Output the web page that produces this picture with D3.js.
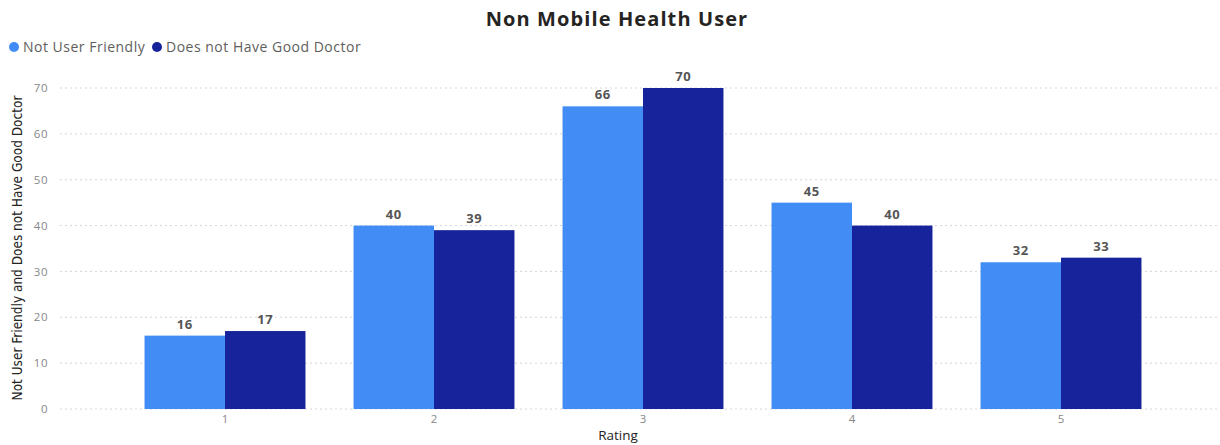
<!DOCTYPE html>
<html><head><meta charset="utf-8">
<script src="https://cdn.jsdelivr.net/npm/d3@7"></script>
<style>body{margin:0;background:#fff;}svg{display:block;}</style>
</head><body>
<script>
const categories = ["1","2","3","4","5"];
const seriesNames = ["Not User Friendly","Does not Have Good Doctor"];
const notUserFriendly = [16,40,66,45,32];
const noGoodDoctor = [17,39,70,40,33];
const yTicks = [0,10,20,30,40,50,60,70];
const colors = ["#418CF5","#17239A"];

const W=1220,H=445;
const svg=d3.select("body").append("svg").attr("width",W).attr("height",H);
const font="'Open Sans', 'Segoe UI', sans-serif";

const x=d3.scaleBand().domain(categories).range([120.5,1165.5]).paddingInner(0.23).paddingOuter(0.115);
const x1=d3.scaleBand().domain([0,1]).range([0,x.bandwidth()]);
const y=d3.scaleLinear().domain([0,70]).range([409,88]);

// gridlines
svg.append("g").selectAll("line").data(yTicks).join("line")
 .attr("x1",60).attr("x2",1220).attr("y1",d=>y(d)).attr("y2",d=>y(d))
 .attr("stroke","#d6d6d6").attr("stroke-dasharray","2,3").attr("stroke-width",1);

// y axis labels
const yAxis=d3.axisLeft(y).tickValues(yTicks).tickSize(0).tickPadding(0);
const gy=svg.append("g").attr("transform","translate(48,0)").call(yAxis);
gy.select(".domain").remove();
gy.selectAll("text").attr("fill","#888").attr("font-size",11.5).attr("font-family",font).attr("letter-spacing",0.5);

// x axis labels
const xAxis=d3.axisBottom(x).tickSize(0).tickPadding(0);
const gx=svg.append("g").attr("transform","translate(0,415)").call(xAxis);
gx.select(".domain").remove();
gx.selectAll("text").attr("fill","#888").attr("font-size",11.5).attr("font-family",font).attr("dy","0.71em");

const data=categories.map((c,i)=>({c,vals:[notUserFriendly[i],noGoodDoctor[i]]}));
const groups=svg.append("g").selectAll("g").data(data).join("g").attr("transform",d=>`translate(${x(d.c)},0)`);
groups.selectAll("rect").data(d=>d.vals.map((v,k)=>({v,k}))).join("rect")
 .attr("x",d=>x1(d.k)).attr("width",x1.bandwidth()).attr("y",d=>y(d.v)).attr("height",d=>y(0)-y(d.v))
 .attr("fill",d=>colors[d.k]);
groups.selectAll("text").data(d=>d.vals.map((v,k)=>({v,k}))).join("text")
 .attr("x",d=>x1(d.k)+x1.bandwidth()/2).attr("y",d=>y(d.v)-7)
 .attr("text-anchor","middle").attr("font-family",font).attr("font-weight","bold").attr("font-size",13)
 .attr("letter-spacing",0.6).attr("fill","#555").text(d=>d.v);

// title
svg.append("text").attr("x",617).attr("y",26).attr("text-anchor","middle")
 .attr("font-family",font).attr("font-weight","bold").attr("font-size",20).attr("letter-spacing",1.1).attr("fill","#252423")
 .text("Non Mobile Health User");

// legend
const lg=svg.append("g");
const lx=[14,157];
seriesNames.forEach((n,i)=>{
  lg.append("circle").attr("cx",lx[i]).attr("cy",47).attr("r",5).attr("fill",colors[i]);
  lg.append("text").attr("x",lx[i]+9).attr("y",52).attr("font-family",font).attr("font-size",14)
    .attr("letter-spacing",0.5).attr("fill","#605E5C").text(n);
});

// axis titles
svg.append("text").attr("transform","translate(22,248) rotate(-90)").attr("text-anchor","middle")
 .attr("font-family","'Liberation Sans Narrow','DejaVu Sans Condensed',sans-serif").attr("font-size",13.5).attr("fill","#252423")
 .text("Not User Friendly and Does not Have Good Doctor");
svg.append("text").attr("x",618).attr("y",440).attr("text-anchor","middle")
 .attr("font-family",font).attr("font-size",13.5).attr("fill","#252423").text("Rating");
</script>
</body></html>
